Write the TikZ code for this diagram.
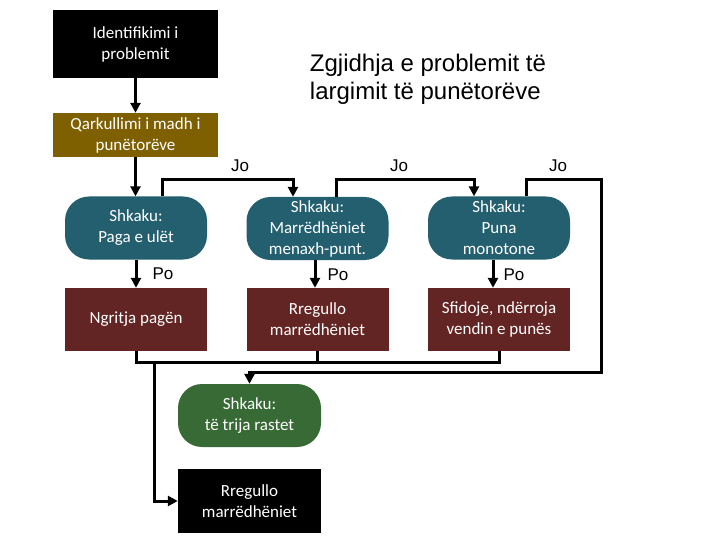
\documentclass[tikz,border=0pt]{standalone}
\usepackage{fontspec}
\setmainfont{Carlito}
\newfontfamily\arialf{Liberation Sans}
\usetikzlibrary{arrows.meta,calc}
\definecolor{boxteal}{HTML}{235F6F}
\definecolor{boxred}{HTML}{632523}
\definecolor{boxgreen}{HTML}{376A34}
\definecolor{boxbrown}{HTML}{7F6000}
\begin{document}
\begin{tikzpicture}[x=1bp,y=-1bp,
  boxtxt/.style={text=white,font=\fontsize{17bp}{21bp}\selectfont,align=center,inner sep=0pt},
  sqbox/.style={boxtxt,rectangle,fill=boxred,minimum width=142bp,minimum height=63bp},
  rndbox/.style={boxtxt,rectangle,rounded corners=24bp,fill=boxteal,minimum width=142bp,minimum height=63bp},
  conn/.style={line width=3bp,draw=black},
  arr/.style={conn,-{Triangle[length=10bp,width=10bp]}},
  lbl/.style={font=\arialf\fontsize{17bp}{20bp}\selectfont,inner sep=0pt}]
\useasboundingbox (0,0) rectangle (720,540);
% nodes
\node[boxtxt,fill=black,minimum width=165bp,minimum height=68bp] (idp) at (135.5,44) {Identifikimi i\\problemit};
\node[boxtxt,fill=boxbrown,minimum width=165bp,minimum height=44bp] (qark) at (135.5,135) {Qarkullimi i madh i\\punëtorëve};
\node[font=\arialf\fontsize{24bp}{28bp}\selectfont,align=left,inner sep=0pt] (title) at (428,79) {Zgjidhja e problemit të\\largimit të punëtorëve};
\node[rndbox] (sh1) at (136,228) {Shkaku:\\Paga e ulët};
\node[rndbox] (sh2) at (317.5,228.5) {Shkaku:\\Marrëdhëniet\\menaxh-punt.};
\node[rndbox] (sh3) at (499,228) {Shkaku:\\Puna\\monotone};
\node[sqbox] (red1) at (136,319.5) {Ngritja pagën};
\node[sqbox] (red2) at (317.5,319.5) {Rregullo\\marrëdhëniet};
\node[sqbox] (red3) at (499,319.5) {Sfidoje, ndërroja\\vendin e punës};
\node[rndbox,fill=boxgreen,minimum width=143bp] (green) at (249.5,415.5) {Shkaku:\\të trija rastet};
\node[boxtxt,fill=black,minimum width=143bp,minimum height=64bp] (blk) at (249.5,501) {Rregullo\\marrëdhëniet};
% labels
\node[lbl] (jo1) at (240,166) {Jo};
\node[lbl] (jo2) at (399,166) {Jo};
\node[lbl] (jo3) at (558,166) {Jo};
\node[lbl] (po1) at (163,274) {Po};
\node[lbl] (po2) at (338,275) {Po};
\node[lbl] (po3) at (514,275) {Po};
% coordinates
\coordinate (rt) at (601,372);
\coordinate (cy) at (0,362);
\coordinate (drop) at (154,362);
% connectors
\draw[arr] (idp) -- (qark);
\draw[arr] (qark.south) -- (qark.south |- sh1.north);
\draw[arr] ([xshift=26bp]sh1.north) -- ++(0,-17) -| ([xshift=-24.5bp]sh2.north);
\draw[arr] ([xshift=18.5bp]sh2.north) -- ++(0,-17) -| ([xshift=-25bp]sh3.north);
\draw[arr] ([xshift=27bp]sh3.north) -- ++(0,-17) -| (rt) -| (green.north);
\draw[arr] (sh1) -- (red1);
\draw[arr] ([xshift=-2.5bp]sh2.south) -- ([xshift=-2.5bp]red2.north);
\draw[arr] ([xshift=-6bp]sh3.south) -- ([xshift=-6bp]red3.north);
\draw[conn] (red1.south) |- (cy -| red3.south) -- (red3.south);
\draw[conn] (red2.south) -- (red2.south |- cy);
\draw[arr] (drop) |- (blk.west);
\end{tikzpicture}
\end{document}
